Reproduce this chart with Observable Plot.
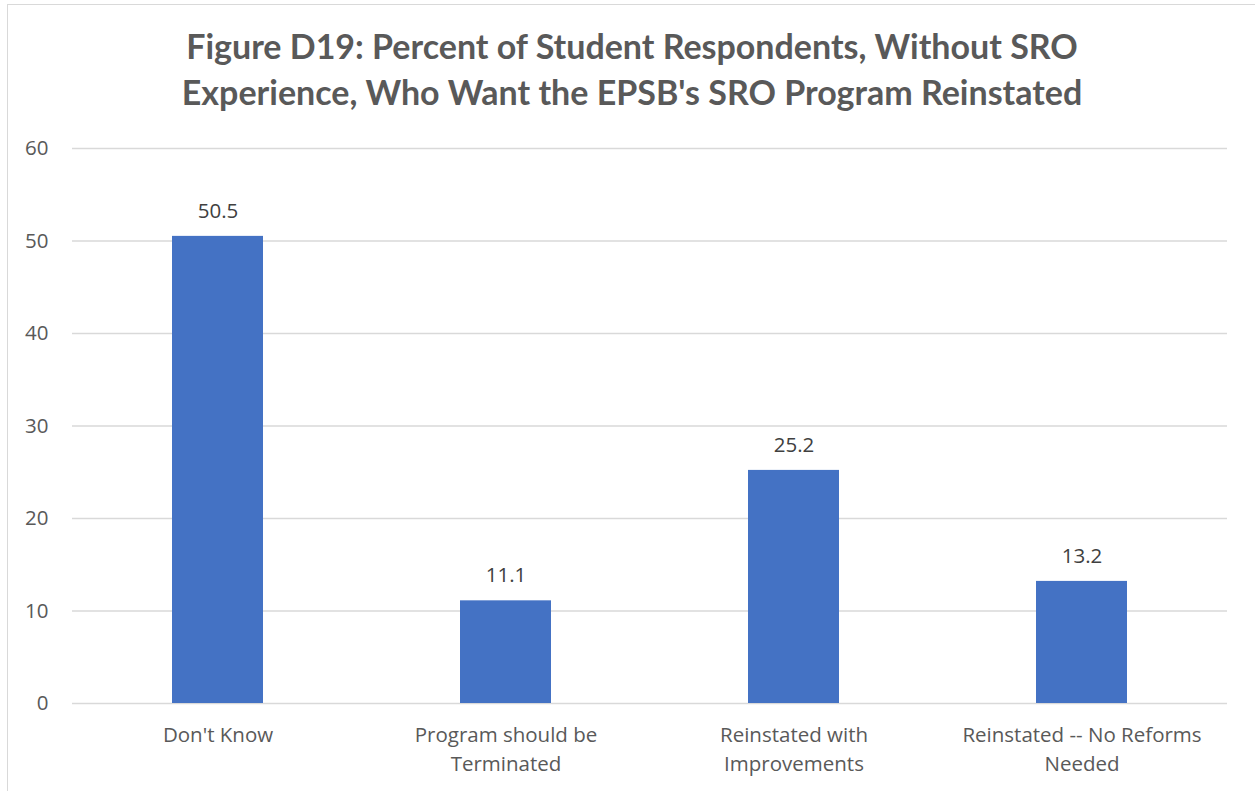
<!DOCTYPE html>
<html><head><meta charset="utf-8">
<script src="https://cdn.jsdelivr.net/npm/d3@7"></script>
<script src="https://cdn.jsdelivr.net/npm/@observablehq/plot@0.6"></script>
<style>
html,body{margin:0;padding:0;background:#fff;width:1255px;height:791px;overflow:hidden;}
#frame{position:absolute;left:7px;top:4px;width:1260px;height:800px;border:1.5px solid #d9d9d9;box-sizing:border-box;}
#title{position:absolute;left:7px;top:23px;width:1250px;text-align:center;font-family:Lato,"Open Sans",sans-serif;font-weight:bold;font-size:34px;line-height:46px;color:#595959;}
#chart{position:absolute;left:0;top:128px;}
</style></head>
<body>
<div id="frame"></div>
<div id="title">Figure D19: Percent of Student Respondents, Without SRO<br>Experience, Who Want the EPSB's SRO Program Reinstated</div>
<div id="chart"></div>
<script>
const categories = ["Don't Know", "Program should be\nTerminated", "Reinstated with\nImprovements", "Reinstated -- No Reforms\nNeeded"];
const values = [50.5, 11.1, 25.2, 13.2];
const yTicks = [0, 10, 20, 30, 40, 50, 60];
const data = categories.map((c, i) => ({category: c, value: values[i]}));

const chart = Plot.plot({
  width: 1255,
  height: 663,
  marginTop: 20,
  marginBottom: 88,
  marginLeft: 72,
  marginRight: 28,
  style: {fontFamily: "'Open Sans', sans-serif", fontSize: "20px", color: "#595959", background: "transparent"},
  x: {domain: categories, paddingInner: 0.685, paddingOuter: 0.3425, label: null},
  y: {domain: [0, 60], ticks: yTicks, label: null},
  marks: [
    Plot.gridY(yTicks, {stroke: "#d9d9d9", strokeOpacity: 1, strokeWidth: 1.5}),
    Plot.barY(data, {x: "category", y: "value", fill: "#4472C4"}),
    Plot.text(data, {x: "category", y: "value", text: d => d.value.toFixed(1), dy: -25, fill: "#404040", fontSize: 20.5}),
    Plot.axisY(yTicks, {tickSize: 0, tickPadding: 24, fill: "#595959", fontSize: 20.5}),
    Plot.axisX({tickSize: 0, tickPadding: 18, fill: "#595959", fontSize: 20.5, lineHeight: 1.4, lineAnchor: "top"})
  ]
});
document.getElementById("chart").appendChild(chart);
</script>
</body></html>
